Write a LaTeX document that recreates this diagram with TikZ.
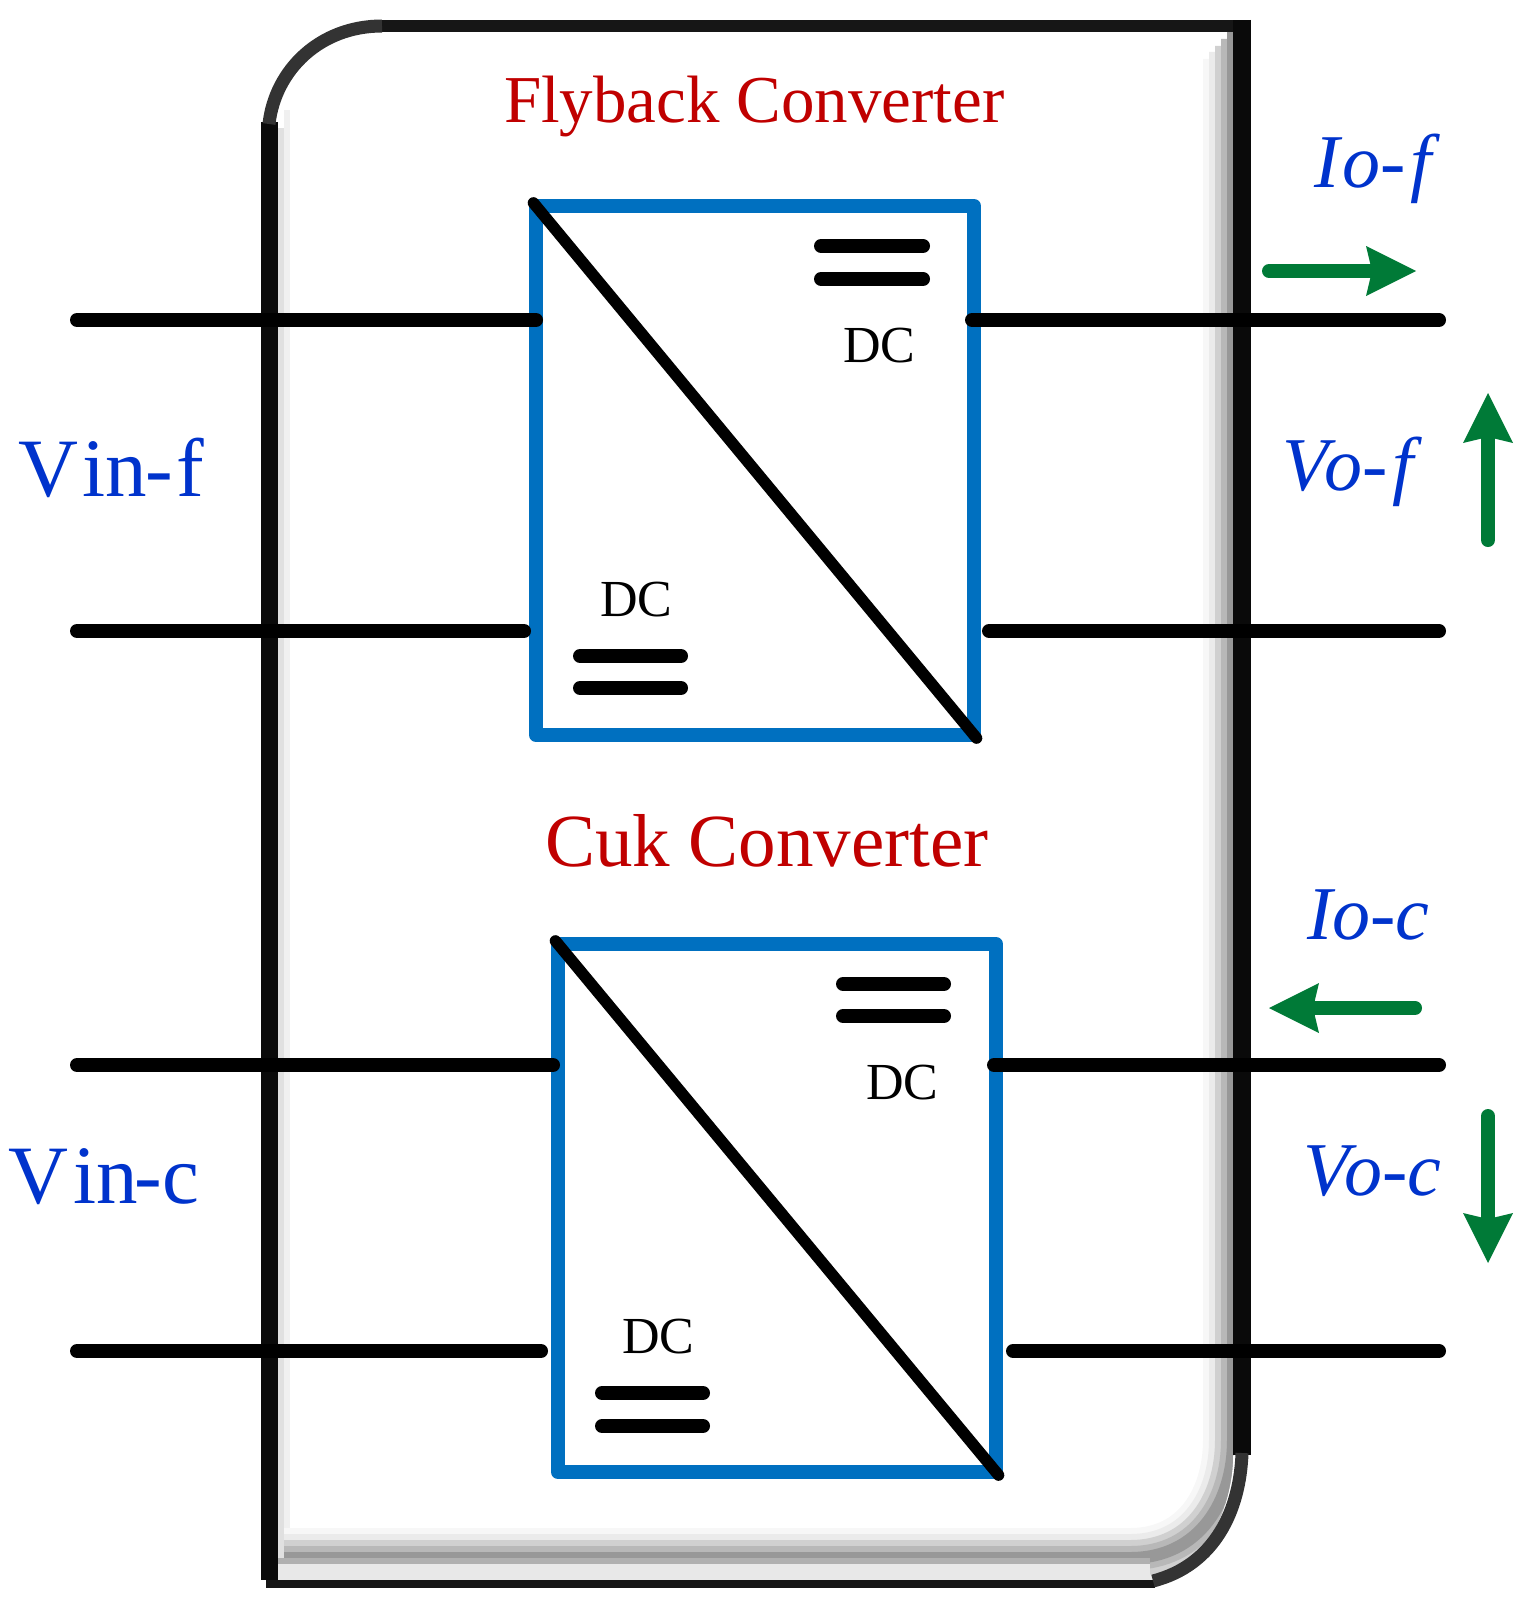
\documentclass[tikz,border=0pt]{standalone}
\usepackage{fontspec}
\setmainfont{Liberation Serif}
\usetikzlibrary{arrows.meta}
\definecolor{boxblue}{HTML}{0070C0}
\definecolor{txtblue}{HTML}{0033CC}
\definecolor{txtred}{HTML}{C00000}
\definecolor{arrgreen}{HTML}{007A37}
\definecolor{frameblack}{HTML}{0A0A0A}
\definecolor{framedark}{HTML}{161616}
\definecolor{framearc}{HTML}{333333}
\definecolor{sa}{HTML}{F7F7F7}
\definecolor{sb}{HTML}{EBEBEB}
\definecolor{sc}{HTML}{D0D0D0}
\definecolor{sd}{HTML}{B8B8B8}
\definecolor{se}{HTML}{989898}
\definecolor{sf}{HTML}{E8E8E8}
\definecolor{sg}{HTML}{B0B0B0}
\tikzset{
  wire/.style={line width=14pt,line cap=round,black},
  eqbar/.style={line width=14pt,line cap=round,black},
  conv/.style={draw=boxblue,line width=14pt,line join=round,inner sep=0pt,outer sep=0pt,minimum width=438pt},
  diag/.style={line width=11.5pt,line cap=round,black,shorten >=-4pt,shorten <=-4pt},
  flow/.style={line width=14pt,line cap=round,arrgreen,-{Stealth[length=50pt,width=50pt,inset=6pt,line width=0pt]}},
  lab/.style={anchor=base west,inner sep=0pt,outer sep=0pt},
  dclab/.style={lab,font=\fontsize{52}{56}\selectfont,text=black},
  title/.style={lab,text=txtred},
  vin/.style={lab,font=\fontsize{83}{90}\selectfont,text=txtblue},
  outlab/.style={lab,font=\fontsize{76}{84}\selectfont\itshape,text=txtblue},
  shade/.style={line width=#1,line cap=butt}
}
\newcommand{\shpath}[1]{(1233,#1) -- (1233,1440) .. controls (1233,1500) and (1200,1558) .. (1130,1558) -- (284,1558)}
\begin{document}
\begin{tikzpicture}[x=1pt,y=-1pt]
\useasboundingbox (0,0) rectangle (1522,1603);
% inner shadow of the frame
\begin{scope}
\clip (278,32) -- (1233,32) -- (1233,1455) .. controls (1233,1510) and (1200,1578) .. (1150,1580) -- (278,1580) -- cycle;
\fill[black!12] (278,128) rectangle (284,1580);
\fill[black!6] (284,110) rectangle (290,1580);
\draw[shade=60pt,sa] \shpath{59};
\draw[shade=48pt,sb] \shpath{52};
\draw[shade=36pt,sc] \shpath{46};
\draw[shade=24pt,sd] \shpath{39};
\draw[shade=12pt,se] \shpath{32};
\fill[sg] (278,1558) rectangle (1150,1564);
\fill[sf] (278,1564) rectangle (1150,1580);
\end{scope}
% frame
\draw[line width=17.7pt,frameblack] (269.5,122) -- (269.5,1580);
\draw[line width=12pt,framedark] (380,26) -- (1251,26);
\draw[line width=18pt,frameblack] (1242,20) -- (1242,1455);
\draw[line width=8pt,framedark] (266,1584) -- (1155,1584);
\draw[line width=13pt,framearc] (269,124) .. controls (275,70) and (320,26) .. (382,26);
\draw[line width=13pt,framearc] (1242,1453) .. controls (1240,1510) and (1215,1565) .. (1153,1581);
% converters
\node[conv,minimum height=529pt] (fly) at (755,470.5) {};
\node[conv,minimum height=528pt] (cuk) at (777,1208) {};
\draw[diag] (fly.north west) -- (fly.south east);
\draw[diag] (cuk.north west) -- (cuk.south east);
% wire end points
\coordinate (fa1) at (77,320);   \coordinate (fa2) at (536,320);
\coordinate (fb1) at (77,631);   \coordinate (fb2) at (524,631);
\coordinate (fc1) at (972,320);  \coordinate (fc2) at (1439,320);
\coordinate (fd1) at (989,631);  \coordinate (fd2) at (1439,631);
\coordinate (ca1) at (77,1065);  \coordinate (ca2) at (553,1065);
\coordinate (cb1) at (77,1351);  \coordinate (cb2) at (541,1351);
\coordinate (cc1) at (994,1065); \coordinate (cc2) at (1439,1065);
\coordinate (cd1) at (1013,1351);\coordinate (cd2) at (1439,1351);
\foreach \a/\b in {fa1/fa2,fb1/fb2,fc1/fc2,fd1/fd2,ca1/ca2,cb1/cb2,cc1/cc2,cd1/cd2}
  \draw[wire] (\a) -- (\b);
% DC bars
\draw[eqbar] (821,246) -- (923,246);
\draw[eqbar] (821,279) -- (923,279);
\draw[eqbar] (580,656) -- (681,656);
\draw[eqbar] (580,688) -- (681,688);
\draw[eqbar] (843,984) -- (944,984);
\draw[eqbar] (843,1016) -- (944,1016);
\draw[eqbar] (602,1393) -- (703,1393);
\draw[eqbar] (602,1426) -- (703,1426);
% DC labels
\node[dclab] (dc1) at (843,362) {DC};
\node[dclab] (dc2) at (600,616) {DC};
\node[dclab] (dc3) at (866,1099) {DC};
\node[dclab] (dc4) at (622,1353) {DC};
% titles
\node[title,font=\fontsize{67}{72}\selectfont] (t1) at (504,122) {Flyback Converter};
\node[title,font=\fontsize{75}{80}\selectfont] (t2) at (545,866) {Cuk Converter};
% input labels
\node[vin] (vf) at (18,496) {V\kern5pt in\kern-2pt -\kern3pt f};
\node[vin] (vc) at (9,1203) {V\kern5pt in\kern-4pt -c};
% output labels
\node[outlab] (iof) at (1314,187) {I\kern3pt o-\kern5pt f};
\node[outlab] (vof) at (1282,490) {V\kern-4pt o-\kern5pt f};
\node[outlab] (ioc) at (1307,939) {Io-c};
\node[outlab] (voc) at (1303,1195) {V\kern-5pt o-c};
% green arrows
\coordinate (a1s) at (1269,271);  \coordinate (a1e) at (1416,271);
\coordinate (a2s) at (1488,540);  \coordinate (a2e) at (1488,393);
\coordinate (a3s) at (1415,1008); \coordinate (a3e) at (1269,1008);
\coordinate (a4s) at (1488,1116); \coordinate (a4e) at (1488,1263);
\foreach \a/\b in {a1s/a1e,a2s/a2e,a3s/a3e,a4s/a4e}
  \draw[flow] (\a) -- (\b);
\end{tikzpicture}
\end{document}
